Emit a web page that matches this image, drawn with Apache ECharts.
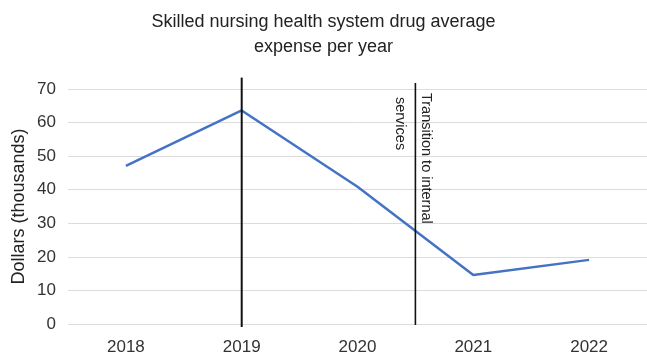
<!DOCTYPE html>
<html>
<head>
<meta charset="utf-8">
<script src="https://cdn.jsdelivr.net/npm/echarts@6/dist/echarts.min.js"></script>
<style>
  html, body { margin: 0; padding: 0; background: #fff; }
  #chart { width: 647px; height: 356px; }
</style>
</head>
<body>
<div id="chart"></div>
<script>
// Average drug expense per year (thousands of dollars)
const years = ['2018', '2019', '2020', '2021', '2022'];
const expense = [47.1, 63.6, 40.9, 14.6, 19.1];
const yTicks = { min: 0, max: 70, step: 10 };

// Vertical reference lines: position on the year axis and value extent
const refLineAtPeak = { year: 2019, from: -0.9, to: 73.4 };
const refLineTransition = { year: 2020.5, from: -0.3, to: 71.8 };
const transitionLabel = ['Transition to internal', 'services'];

const FONT = '"Liberation Sans", Arial, Helvetica, sans-serif';

const chart = echarts.init(document.getElementById('chart'));
chart.setOption({
  animation: false,
  title: {
    text: 'Skilled nursing health system drug average\nexpense per year',
    left: 'center',
    top: 5,
    textStyle: { fontFamily: FONT, fontSize: 18, fontWeight: 'normal', color: '#222', lineHeight: 25 }
  },
  grid: { left: 68, right: 0, top: 89, bottom: 32, outerBoundsMode: 'none' },
  xAxis: {
    type: 'category',
    data: years,
    boundaryGap: true,
    axisLine: { show: false },
    axisTick: { show: false },
    axisLabel: { fontFamily: FONT, fontSize: 17, color: '#333', margin: 15 }
  },
  yAxis: {
    type: 'value',
    min: yTicks.min,
    max: yTicks.max,
    interval: yTicks.step,
    name: 'Dollars (thousands)',
    nameLocation: 'middle',
    nameGap: 40,
    nameMoveOverlap: false,
    nameTextStyle: { fontFamily: FONT, fontSize: 18, color: '#222' },
    axisLine: { show: false },
    axisTick: { show: false },
    axisLabel: { fontFamily: FONT, fontSize: 17, color: '#333', margin: 12 },
    splitLine: { lineStyle: { color: '#dcdcdc', width: 1 } }
  },
  series: [{
    type: 'line',
    data: expense,
    symbol: 'none',
    lineStyle: { color: '#4472c4', width: 2.5 },
    z: 3
  }]
});

// Pixel x for a (possibly fractional) year on the category axis
function yearToX(year) {
  const i = Math.floor(year - Number(years[0]));
  const frac = (year - Number(years[0])) - i;
  const x0 = chart.convertToPixel({ gridIndex: 0 }, [i, 0])[0];
  if (frac === 0) return x0;
  const x1 = chart.convertToPixel({ gridIndex: 0 }, [i + 1, 0])[0];
  return x0 + (x1 - x0) * frac;
}
function valueToY(v) {
  return chart.convertToPixel({ gridIndex: 0 }, [0, v])[1];
}

const xPeak = yearToX(refLineAtPeak.year);
const xTrans = yearToX(refLineTransition.year);

chart.setOption({
  graphic: [
    {
      type: 'line', z: 10,
      shape: { x1: xPeak, y1: valueToY(refLineAtPeak.to), x2: xPeak, y2: valueToY(refLineAtPeak.from) },
      style: { stroke: '#111', lineWidth: 2 }
    },
    {
      type: 'line', z: 10,
      shape: { x1: xTrans, y1: valueToY(refLineTransition.to), x2: xTrans, y2: valueToY(refLineTransition.from) },
      style: { stroke: '#111', lineWidth: 1.6 }
    },
    {
      type: 'text', z: 10,
      x: xTrans + 11, y: valueToY(refLineTransition.to) + 10,
      rotation: -Math.PI / 2,
      style: { text: transitionLabel[0], font: '14.5px ' + FONT, fill: '#222', align: 'left', verticalAlign: 'middle' }
    },
    {
      type: 'text', z: 10,
      x: xTrans - 15, y: valueToY(refLineTransition.to) + 14,
      rotation: -Math.PI / 2,
      style: { text: transitionLabel[1], font: '14.5px ' + FONT, fill: '#222', align: 'left', verticalAlign: 'middle' }
    }
  ]
});
</script>
</body>
</html>
